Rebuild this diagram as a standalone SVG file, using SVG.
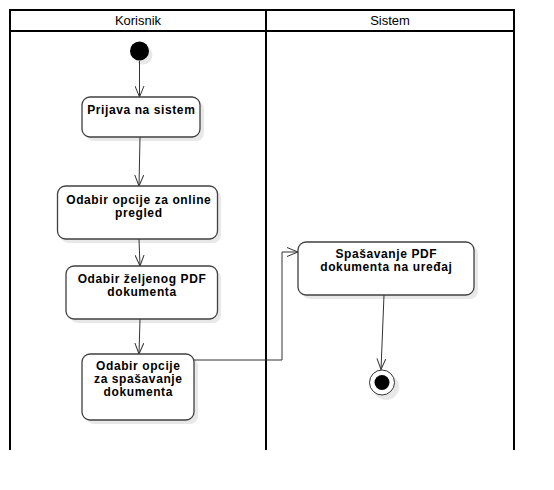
<svg xmlns="http://www.w3.org/2000/svg" width="554" height="490" viewBox="0 0 554 490">
<style>
.lane{stroke:#000;stroke-width:2;fill:none}
.hdr{font-family:"Liberation Sans",Arial,sans-serif;font-size:13px;fill:#000;text-anchor:middle}
.box{fill:#fff;stroke:#404040;stroke-width:1.3}
.sh{fill:#000;opacity:0.09}
.lbl{font-family:"Liberation Sans",Arial,sans-serif;font-size:12px;letter-spacing:0.6px;font-weight:bold;fill:#000;text-anchor:middle}
.edge{stroke:#333;stroke-width:1;fill:none;marker-end:url(#arr)}
</style>
<defs>
<marker id="arr" viewBox="0 0 12 10" refX="11" refY="5" markerWidth="12" markerHeight="10" markerUnits="userSpaceOnUse" orient="auto">
<path d="M0,0.5 L11,5 L0,9.5" fill="none" stroke="#333" stroke-width="1"/>
</marker>
</defs>
<rect width="554" height="490" fill="#fff"/>
<g id="swimlanes">
<path class="lane" d="M10,450 V10 H514 V450 M10,31 H514 M266,10 V450"/>
<text class="hdr" x="138" y="25">Korisnik</text>
<text class="hdr" x="390" y="25">Sistem</text>
</g>
<g id="connectors">
<path class="edge" d="M139.5,61 L139.5,97"/>
<path class="edge" d="M140,137 L139,186"/>
<path class="edge" d="M139,239 L140,266"/>
<path class="edge" d="M140,319 L139,354"/>
<path class="edge" d="M194,360 H282 V252 H298"/>
<path class="edge" d="M384,295 L381,369.5"/>
</g>
<g id="start">
<circle class="sh" cx="143" cy="55" r="9.5"/>
<circle cx="139.5" cy="51" r="9.5" fill="#000"/>
</g>
<g id="prijava">
<rect class="sh" x="86" y="101" width="118" height="40" rx="8"/>
<rect class="box" x="82" y="97" width="118" height="40" rx="8"/>
<text class="lbl" x="141.3" y="114">Prijava na sistem</text>
</g>
<g id="online">
<rect class="sh" x="61" y="190" width="160" height="53" rx="8"/>
<rect class="box" x="57.5" y="186" width="160" height="53" rx="8"/>
<text class="lbl" x="138.8" y="203.7">Odabir opcije za online</text>
<text class="lbl" x="138.8" y="217.1">pregled</text>
</g>
<g id="pdf">
<rect class="sh" x="70" y="270" width="151" height="53" rx="8"/>
<rect class="box" x="66" y="266" width="151.5" height="53" rx="8"/>
<text class="lbl" x="142" y="282.5">Odabir željenog PDF</text>
<text class="lbl" x="142" y="295.9">dokumenta</text>
</g>
<g id="spasavanje-opcija">
<rect class="sh" x="86" y="358" width="112" height="66" rx="8"/>
<rect class="box" x="82" y="354" width="112" height="66" rx="8"/>
<text class="lbl" x="138.3" y="369.5">Odabir opcije</text>
<text class="lbl" x="138.3" y="382.9">za spašavanje</text>
<text class="lbl" x="138.3" y="396.3">dokumenta</text>
</g>
<g id="spasavanje">
<rect class="sh" x="302" y="246" width="176" height="53" rx="8"/>
<rect class="box" x="298" y="242" width="176" height="53" rx="8"/>
<text class="lbl" x="386.3" y="258">Spašavanje PDF</text>
<text class="lbl" x="386.3" y="271.4">dokumenta na uređaj</text>
</g>
<g id="end">
<circle class="sh" cx="386" cy="387" r="13"/>
<circle cx="382" cy="382.5" r="12.5" fill="#fff" stroke="#333" stroke-width="1"/>
<circle cx="382" cy="382.5" r="7.5" fill="#000"/>
</g>
</svg>
